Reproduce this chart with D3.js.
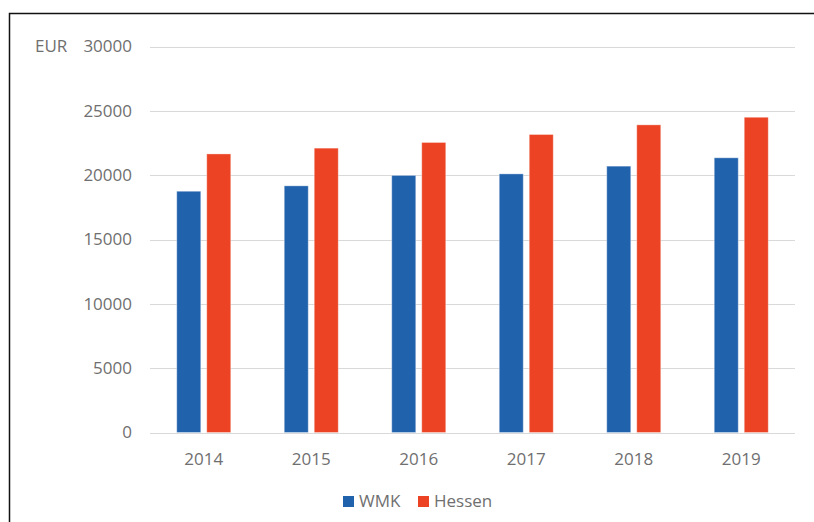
<!DOCTYPE html>
<html><head><meta charset="utf-8">
<script src="https://cdn.jsdelivr.net/npm/d3@7"></script>
<style>body{margin:0;background:#fff}svg{display:block}</style>
</head><body>
<script>
const years = ["2014","2015","2016","2017","2018","2019"];
const wmk = [18750, 19170, 19980, 20100, 20700, 21350];
const hessen = [21650, 22100, 22540, 23160, 23910, 24500];
const yTicks = [0, 5000, 10000, 15000, 20000, 25000, 30000];
const seriesNames = ["WMK", "Hessen"];
const colors = ["#2162AD", "#EB4324"];

const W = 814, H = 522;
const svg = d3.select("body").append("svg").attr("width", W).attr("height", H);
const font = "'Open Sans', sans-serif";
const fs = 17;
const txt = "#6f6f6f";

// frame
svg.append("path").attr("d", `M9.5,${H+2}V13.5H${W+2}`).attr("fill","none").attr("stroke","#111").attr("stroke-width",1.5);

const x = d3.scaleBand().domain(years).range([150, 795]);
const y = d3.scaleLinear().domain([0, 30000]).range([432.5, 46.5]);

// gridlines
svg.append("g").selectAll("line").data(yTicks).join("line")
  .attr("x1", 150).attr("x2", 795)
  .attr("y1", d => Math.round(y(d)) + 0.5).attr("y2", d => Math.round(y(d)) + 0.5)
  .attr("stroke", "#d9d9d9").attr("stroke-width", 1.2);

// y axis labels
const yAxis = d3.axisLeft(y).tickValues(yTicks).tickSize(0).tickPadding(0).tickFormat(d3.format("d"));
const ya = svg.append("g").attr("transform", "translate(132,0)").call(yAxis);
ya.select(".domain").remove();
ya.selectAll("text").attr("font-family", font).attr("font-size", fs).attr("fill", txt);

svg.append("text").attr("x", 35).attr("y", y(30000)).attr("dy", "0.32em")
  .attr("font-family", font).attr("font-size", fs).attr("fill", txt).text("EUR");

// bars
const bw = 24, gap = 6;
const g = svg.append("g");
years.forEach((yr, i) => {
  const cx = x(yr) + x.bandwidth() / 2;
  [wmk[i], hessen[i]].forEach((v, s) => {
    const x0 = s === 0 ? cx - gap / 2 - bw : cx + gap / 2;
    g.append("rect").attr("x", x0).attr("width", bw)
      .attr("y", y(v)).attr("height", y(0) - y(v))
      .attr("fill", colors[s]).attr("stroke", "rgba(255,255,255,0.35)").attr("stroke-width", 1);
  });
});

// x axis labels
const xAxis = d3.axisBottom(x).tickSize(0).tickPadding(0);
const xa = svg.append("g").attr("transform", "translate(0,459)").call(xAxis);
xa.select(".domain").remove();
xa.selectAll("text").attr("font-family", font).attr("font-size", fs).attr("fill", txt).attr("dy", "0.35em");

// legend
const legX = [343, 418];
const leg = svg.append("g");
seriesNames.forEach((n, i) => {
  leg.append("rect").attr("x", legX[i]).attr("y", 496).attr("width", 11).attr("height", 11).attr("fill", colors[i]);
  leg.append("text").attr("x", legX[i] + 16).attr("y", 501).attr("dy", "0.35em")
    .attr("font-family", font).attr("font-size", fs).attr("fill", txt).text(n);
});
</script>
</body></html>
